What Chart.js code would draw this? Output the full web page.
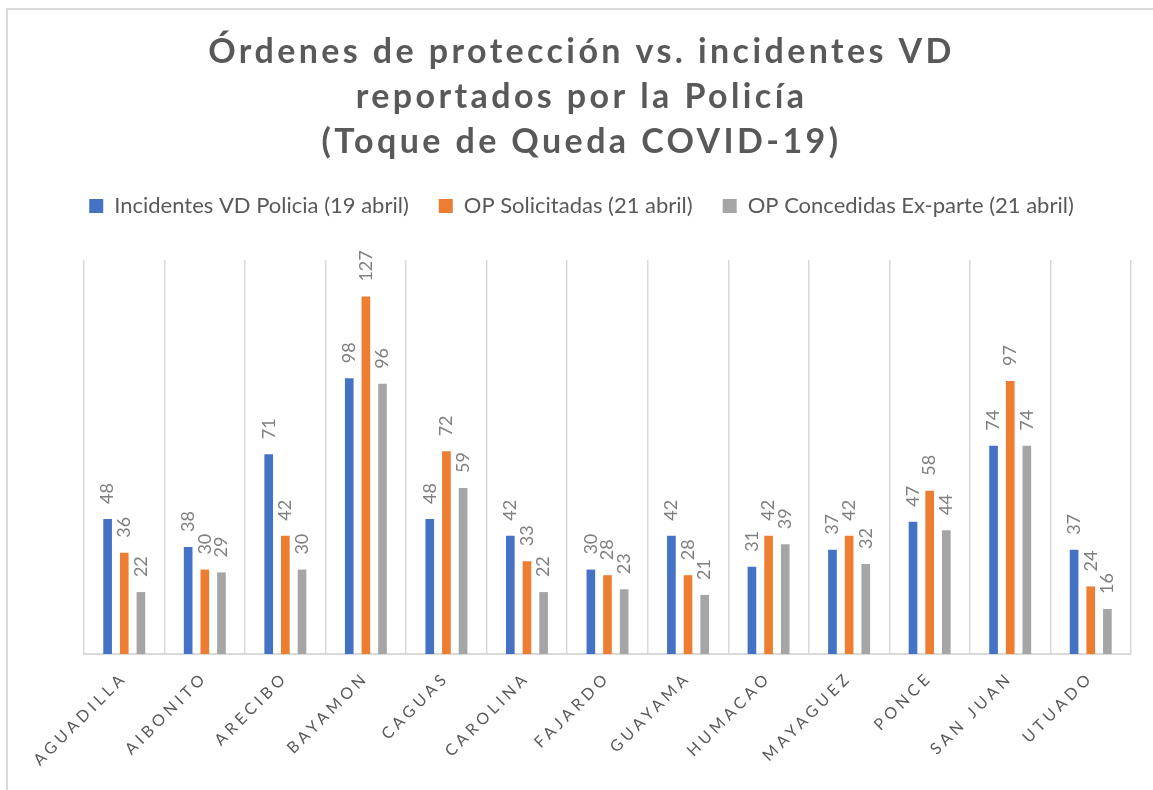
<!DOCTYPE html>
<html>
<head>
<meta charset="utf-8">
<script src="https://cdn.jsdelivr.net/npm/chart.js@4/dist/chart.umd.min.js"></script>
<style>
  html, body { margin: 0; padding: 0; background: #fff; }
  #marco { position: absolute; left: 6px; top: 8px; width: 1200px; height: 900px; border: 2px solid #d9d9d9; }
  #caja { position: absolute; left: 0; top: 0; width: 1153px; height: 790px; }
</style>
</head>
<body>
<div id="marco"></div>
<div id="caja"><canvas id="myChart"></canvas></div>
<script>
// datos
var regiones = ['AGUADILLA', 'AIBONITO', 'ARECIBO', 'BAYAMON', 'CAGUAS', 'CAROLINA', 'FAJARDO',
  'GUAYAMA', 'HUMACAO', 'MAYAGUEZ', 'PONCE', 'SAN JUAN', 'UTUADO'];
var incidentesVD = [48, 38, 71, 98, 48, 42, 30, 42, 31, 37, 47, 74, 37];
var opSolicitadas = [36, 30, 42, 127, 72, 33, 28, 28, 42, 42, 58, 97, 24];
var opConcedidas = [22, 29, 30, 96, 59, 22, 23, 21, 39, 32, 44, 74, 16];
var nombresSeries = ['Incidentes VD Policia (19 abril)', 'OP Solicitadas (21 abril)', 'OP Concedidas Ex-parte (21 abril)'];
var tituloLineas = ['Órdenes de protección vs. incidentes VD', 'reportados por la Policía', '(Toque de Queda COVID-19)'];

var GRIS_TEXTO = '#595959';

function serie(label, data, color){
  return {
    label: label,
    data: data,
    backgroundColor: color,
    borderWidth: 0,
    categoryPercentage: 0.62,
    barPercentage: 0.52
  }
}

// etiquetas de valor giradas encima de cada barra
const etiquetasValor = {
  id: 'etiquetasValor',
  afterDatasetsDraw(chart){
    const ctx = chart.ctx;
    ctx.save();
    ctx.font = '18px Lato';
    ctx.fillStyle = '#7f7f7f';
    ctx.textAlign = 'left';
    ctx.textBaseline = 'middle';
    chart.data.datasets.forEach((ds, i) => {
      chart.getDatasetMeta(i).data.forEach((bar, j) => {
        ctx.save();
        ctx.translate(bar.x, bar.y - 15);
        ctx.rotate(-Math.PI/2);
        ctx.fillText(String(ds.data[j]), 0, 0);
        ctx.restore();
      });
    });
    ctx.restore();
  }
};

var ctx = document.getElementById('myChart');
const config = {
  type: 'bar',
  data: {
    labels: regiones,
    datasets: [
      serie(nombresSeries[0], incidentesVD, '#4472c4'),
      serie(nombresSeries[1], opSolicitadas, '#ed7d31'),
      serie(nombresSeries[2], opConcedidas, '#a5a5a5'),
    ]
  },
  options: {
    responsive: true,
    maintainAspectRatio: false,
    animation: false,
    layout: { padding: { left: 32, right: 22, top: 30, bottom: 0 } },
    plugins: {
      title: {
        display: true,
        text: tituloLineas,
        color: GRIS_TEXTO,
        font: { family: 'Lato', size: 34, weight: 'bold', lineHeight: 45/34 },
        padding: { top: 0, bottom: 0 }
      },
      legend: {
        display: true,
        position: 'top',
        labels: {
          color: GRIS_TEXTO,
          font: { family: 'Lato', size: 22 },
          boxWidth: 14,
          boxHeight: 14,
          padding: 30
        }
      },
      tooltip: { enabled: false }
    },
    scales: {
      x: {
        grid: { display: true, offset: true, color: '#d9d9d9', lineWidth: 1.5, drawTicks: false },
        border: { display: true, color: '#d9d9d9', width: 2 },
        ticks: {
          color: GRIS_TEXTO,
          font: { family: 'Lato', size: 16 },
          minRotation: 45,
          maxRotation: 45,
          padding: 14,
          autoSkip: false
        },
        afterFit: function(scale){ scale.height = 136; }
      },
      y: {
        display: true,
        min: 0,
        max: 140,
        grid: { display: false },
        border: { display: false },
        ticks: { display: false },
        afterFit: function(scale){ scale.width = 52; }
      }
    }
  },
  plugins: [etiquetasValor]
};

var chart = new Chart(ctx, config);

// espaciado de letras en titulo y rotulos del eje, como en el original
var dibTitulo = chart.titleBlock.draw;
chart.titleBlock.draw = function(){
  this.ctx.save();
  this.ctx.letterSpacing = '3.4px';
  dibTitulo.apply(this, arguments);
  this.ctx.restore();
};
var dibRotulos = chart.scales.x.drawLabels;
chart.scales.x.drawLabels = function(){
  this.ctx.save();
  this.ctx.letterSpacing = '4px';
  dibRotulos.apply(this, arguments);
  this.ctx.restore();
};
// hueco entre leyenda y area del grafico
var ajusteLeyenda = chart.legend.fit;
chart.legend.fit = function(){
  ajusteLeyenda.apply(this, arguments);
  this.height = 95;
};
chart.update();
</script>
</body>
</html>
